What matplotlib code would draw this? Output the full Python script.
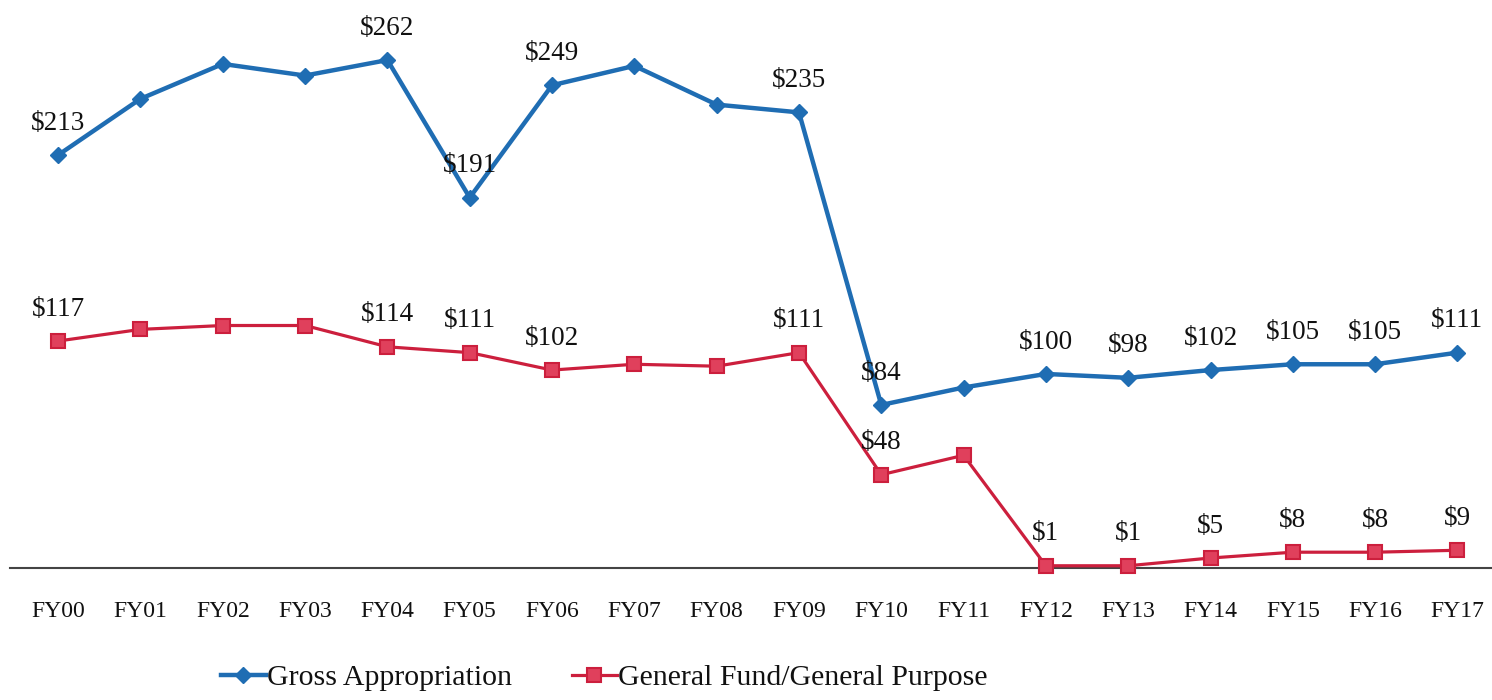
import numpy as np
import matplotlib.pyplot as plt

years = ["FY00", "FY01", "FY02", "FY03", "FY04", "FY05", "FY06", "FY07", "FY08",
         "FY09", "FY10", "FY11", "FY12", "FY13", "FY14", "FY15", "FY16", "FY17"]
gross = [213, 242, 260, 254, 262, 191, 249, 259, 239, 235, 84, 93, 100, 98, 102, 105, 105, 111]
gfgp = [117, 123, 125, 125, 114, 111, 102, 105, 104, 111, 48, 58, 1, 1, 5, 8, 8, 9]

# which points carry a data label
gross_labeled = [0, 4, 5, 6, 9, 10, 12, 13, 14, 15, 16, 17]
gfgp_labeled = [0, 4, 5, 6, 9, 10, 12, 13, 14, 15, 16, 17]

blue = "#1f6db3"
red = "#cc1f3d"
ink = "#111111"

plt.rcParams['font.family'] = ['Liberation Serif', 'DejaVu Serif']

fig = plt.figure(figsize=(14.92, 7.0), dpi=100)
ax = fig.add_axes([0.007, 0.189, 0.993, 0.811])

x = np.arange(len(years))
ax.plot(x, gross, color=blue, lw=3.2, marker="D", ms=8, mfc=blue, mec=blue,
        label="Gross Appropriation", clip_on=False, zorder=3)
ax.plot(x, gfgp, color=red, lw=2.3, marker="s", ms=9.5, mfc="#e0405c", mec=red,
        mew=1.5, label="General Fund/General Purpose", clip_on=False, zorder=3)

for i in gross_labeled:
    ax.annotate(f"${gross[i]}", (x[i], gross[i]), xytext=(0, 14), textcoords="offset points",
                ha="center", va="bottom", fontsize=19.5, color=ink)
for i in gfgp_labeled:
    ax.annotate(f"${gfgp[i]}", (x[i], gfgp[i]), xytext=(0, 14), textcoords="offset points",
                ha="center", va="bottom", fontsize=19.5, color=ink)

ax.set_xlim(-0.58, 17.42)
ax.set_ylim(0, 293)
ax.set_xticks(x)
ax.set_xticklabels(years, fontsize=17, color=ink)
ax.tick_params(axis="x", length=0, pad=24)
ax.set_yticks([])
for s in ["left", "right", "top"]:
    ax.spines[s].set_visible(False)
ax.spines["bottom"].set_color("#444444")
ax.spines["bottom"].set_linewidth(1.5)

fig.legend(loc="center", bbox_to_anchor=(0.405, 0.032), ncol=2, frameon=False,
           fontsize=21.5, handlelength=1.5, handletextpad=0.05, columnspacing=2.0,
           labelcolor=ink)

fig.savefig("out.png", dpi=100)
